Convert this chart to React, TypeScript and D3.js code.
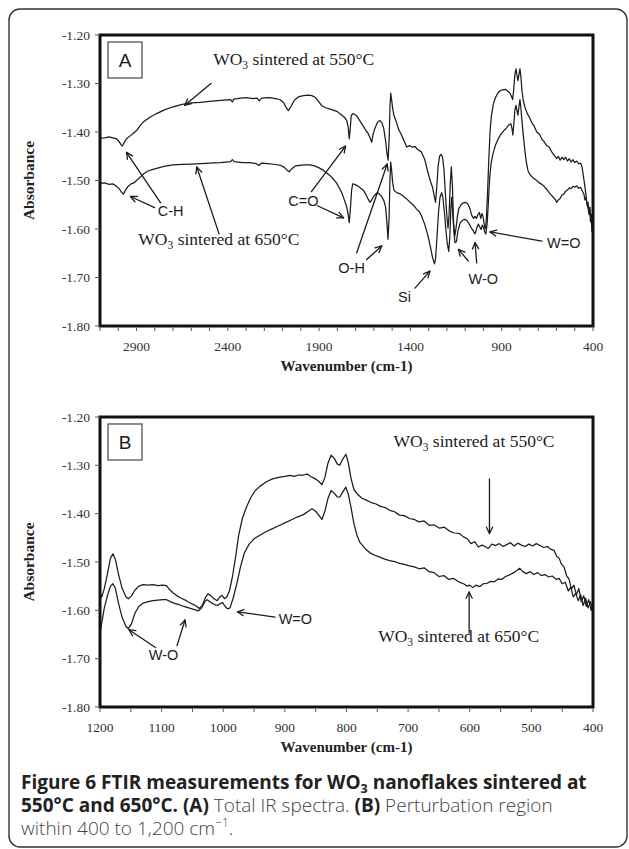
import React from 'react';
import * as d3 from 'd3';

type Pt = [number, number];

// ---------------- DATA ----------------
const yTickValues = [-1.2, -1.3, -1.4, -1.5, -1.6, -1.7, -1.8];
const xTicksA = [2900, 2400, 1900, 1400, 900, 400];
const xTicksB = [1200, 1100, 1000, 900, 800, 700, 600, 500, 400];

const specA550: Pt[] = [[3100,-1.413],[3075,-1.412],[3050,-1.410],[3030,-1.412],[3010,-1.414],[2995,-1.420],[2985,-1.426],[2978,-1.429],[2968,-1.422],[2955,-1.414],[2935,-1.408],[2918,-1.403],[2900,-1.397],[2880,-1.387],[2865,-1.380],[2850,-1.376],[2820,-1.368],[2790,-1.362],[2750,-1.355],[2700,-1.348],[2650,-1.343],[2600,-1.340],[2550,-1.339],[2500,-1.337],[2440,-1.335],[2385,-1.333],[2375,-1.338],[2368,-1.332],[2330,-1.330],[2300,-1.329],[2260,-1.331],[2240,-1.330],[2228,-1.336],[2215,-1.330],[2170,-1.329],[2140,-1.331],[2115,-1.333],[2095,-1.339],[2080,-1.350],[2068,-1.356],[2055,-1.348],[2035,-1.334],[2010,-1.327],[1985,-1.325],[1960,-1.324],[1940,-1.325],[1920,-1.329],[1905,-1.336],[1885,-1.346],[1865,-1.350],[1840,-1.353],[1822,-1.355],[1800,-1.358],[1780,-1.364],[1760,-1.370],[1748,-1.377],[1740,-1.392],[1735,-1.414],[1730,-1.395],[1724,-1.366],[1715,-1.362],[1700,-1.365],[1690,-1.369],[1675,-1.378],[1660,-1.387],[1645,-1.396],[1630,-1.404],[1620,-1.413],[1612,-1.421],[1604,-1.404],[1592,-1.390],[1580,-1.380],[1567,-1.376],[1556,-1.381],[1546,-1.393],[1536,-1.418],[1528,-1.445],[1522,-1.458],[1516,-1.41],[1512,-1.35],[1508,-1.320],[1503,-1.333],[1497,-1.352],[1490,-1.366],[1478,-1.378],[1465,-1.394],[1450,-1.405],[1435,-1.418],[1420,-1.431],[1405,-1.428],[1390,-1.431],[1375,-1.430],[1360,-1.436],[1340,-1.441],[1322,-1.456],[1305,-1.482],[1290,-1.502],[1278,-1.515],[1268,-1.535],[1262,-1.545],[1255,-1.51],[1248,-1.47],[1240,-1.450],[1232,-1.446],[1224,-1.452],[1216,-1.478],[1208,-1.53],[1200,-1.575],[1194,-1.598],[1188,-1.57],[1182,-1.51],[1176,-1.472],[1170,-1.51],[1164,-1.585],[1157,-1.615],[1150,-1.598],[1142,-1.572],[1135,-1.558],[1122,-1.550],[1110,-1.546],[1098,-1.545],[1086,-1.548],[1076,-1.556],[1064,-1.572],[1054,-1.578],[1046,-1.574],[1038,-1.578],[1030,-1.570],[1022,-1.566],[1015,-1.578],[1008,-1.568],[1002,-1.575],[996,-1.590],[991,-1.600],[985,-1.585],[978,-1.53],[971,-1.46],[964,-1.40],[956,-1.365],[946,-1.343],[935,-1.330],[922,-1.320],[909,-1.315],[895,-1.313],[880,-1.312],[866,-1.316],[855,-1.320],[846,-1.327],[840,-1.333],[834,-1.312],[828,-1.282],[822,-1.270],[817,-1.282],[811,-1.294],[805,-1.280],[800,-1.270],[795,-1.285],[789,-1.315],[782,-1.335],[772,-1.350],[760,-1.362],[748,-1.370],[736,-1.380],[722,-1.388],[708,-1.400],[694,-1.404],[680,-1.415],[668,-1.420],[654,-1.428],[640,-1.431],[628,-1.440],[616,-1.446],[605,-1.452],[599,-1.455],[590,-1.450],[580,-1.458],[570,-1.452],[560,-1.457],[550,-1.452],[540,-1.460],[530,-1.455],[520,-1.462],[510,-1.457],[500,-1.463],[489,-1.460],[478,-1.466],[468,-1.464],[460,-1.472],[453,-1.490],[446,-1.508],[440,-1.525],[434,-1.545],[428,-1.555],[422,-1.570],[418,-1.560],[414,-1.585],[410,-1.575],[406,-1.605],[403,-1.595],[400,-1.620]];

const specA650: Pt[] = [[3100,-1.506],[3075,-1.505],[3050,-1.508],[3030,-1.507],[3010,-1.512],[2995,-1.517],[2982,-1.524],[2972,-1.528],[2962,-1.521],[2948,-1.513],[2930,-1.507],[2915,-1.505],[2900,-1.500],[2880,-1.493],[2860,-1.486],[2840,-1.481],[2810,-1.477],[2780,-1.474],[2750,-1.471],[2700,-1.468],[2650,-1.467],[2600,-1.466],[2550,-1.465],[2500,-1.464],[2440,-1.463],[2385,-1.461],[2375,-1.457],[2365,-1.461],[2320,-1.463],[2280,-1.463],[2245,-1.465],[2230,-1.469],[2215,-1.464],[2180,-1.465],[2140,-1.467],[2110,-1.469],[2090,-1.473],[2075,-1.479],[2064,-1.482],[2050,-1.476],[2030,-1.470],[2005,-1.469],[1980,-1.468],[1950,-1.468],[1925,-1.470],[1900,-1.474],[1880,-1.478],[1860,-1.484],[1840,-1.490],[1822,-1.497],[1805,-1.505],[1790,-1.515],[1776,-1.525],[1762,-1.540],[1750,-1.553],[1742,-1.567],[1735,-1.587],[1729,-1.56],[1722,-1.52],[1716,-1.507],[1705,-1.508],[1690,-1.511],[1675,-1.515],[1658,-1.520],[1645,-1.528],[1632,-1.538],[1621,-1.545],[1612,-1.540],[1600,-1.532],[1590,-1.528],[1581,-1.525],[1570,-1.528],[1557,-1.533],[1545,-1.542],[1536,-1.555],[1529,-1.585],[1523,-1.621],[1517,-1.58],[1512,-1.50],[1508,-1.462],[1503,-1.478],[1497,-1.505],[1490,-1.520],[1475,-1.525],[1460,-1.527],[1440,-1.532],[1420,-1.538],[1402,-1.545],[1385,-1.550],[1366,-1.559],[1350,-1.565],[1339,-1.573],[1322,-1.590],[1305,-1.612],[1290,-1.638],[1278,-1.660],[1268,-1.672],[1262,-1.660],[1254,-1.615],[1246,-1.565],[1238,-1.535],[1229,-1.525],[1222,-1.535],[1214,-1.565],[1206,-1.600],[1198,-1.630],[1190,-1.646],[1184,-1.615],[1178,-1.555],[1174,-1.535],[1169,-1.560],[1162,-1.605],[1156,-1.628],[1148,-1.626],[1140,-1.605],[1128,-1.588],[1115,-1.582],[1101,-1.580],[1090,-1.583],[1078,-1.590],[1066,-1.598],[1055,-1.604],[1048,-1.610],[1042,-1.606],[1035,-1.596],[1028,-1.590],[1020,-1.596],[1013,-1.601],[1006,-1.592],[999,-1.598],[992,-1.607],[987,-1.610],[980,-1.590],[973,-1.545],[966,-1.495],[958,-1.465],[948,-1.445],[935,-1.428],[920,-1.415],[905,-1.405],[890,-1.398],[875,-1.392],[860,-1.385],[850,-1.383],[844,-1.392],[839,-1.406],[834,-1.385],[828,-1.355],[822,-1.345],[816,-1.356],[811,-1.365],[805,-1.347],[800,-1.333],[795,-1.350],[789,-1.378],[782,-1.405],[774,-1.435],[766,-1.460],[756,-1.480],[745,-1.488],[733,-1.493],[720,-1.497],[708,-1.500],[695,-1.505],[680,-1.508],[668,-1.512],[654,-1.518],[640,-1.525],[628,-1.530],[615,-1.536],[605,-1.540],[599,-1.545],[590,-1.540],[580,-1.537],[570,-1.530],[560,-1.528],[550,-1.522],[540,-1.520],[530,-1.515],[520,-1.517],[510,-1.512],[500,-1.514],[489,-1.511],[478,-1.516],[468,-1.514],[458,-1.522],[450,-1.528],[444,-1.540],[438,-1.535],[432,-1.552],[427,-1.545],[422,-1.565],[417,-1.555],[412,-1.580],[408,-1.570],[404,-1.595],[400,-1.585]];

const specB550: Pt[] = [[1200,-1.566],[1197,-1.572],[1193,-1.555],[1188,-1.525],[1183,-1.492],[1179,-1.483],[1175,-1.495],[1170,-1.525],[1164,-1.555],[1158,-1.572],[1154,-1.576],[1149,-1.570],[1143,-1.558],[1137,-1.550],[1130,-1.547],[1122,-1.548],[1114,-1.547],[1106,-1.549],[1098,-1.548],[1092,-1.549],[1088,-1.556],[1082,-1.563],[1075,-1.570],[1068,-1.575],[1060,-1.580],[1052,-1.586],[1045,-1.590],[1039,-1.596],[1034,-1.590],[1029,-1.574],[1025,-1.566],[1020,-1.570],[1015,-1.576],[1010,-1.580],[1006,-1.573],[1002,-1.569],[998,-1.576],[994,-1.572],[990,-1.560],[985,-1.530],[980,-1.490],[975,-1.445],[969,-1.410],[962,-1.385],[955,-1.366],[948,-1.352],[940,-1.343],[930,-1.334],[920,-1.328],[910,-1.325],[900,-1.323],[892,-1.321],[885,-1.323],[878,-1.320],[870,-1.320],[864,-1.318],[858,-1.323],[852,-1.327],[846,-1.332],[840,-1.340],[835,-1.325],[830,-1.295],[825,-1.279],[820,-1.285],[815,-1.297],[811,-1.300],[806,-1.287],[801,-1.277],[797,-1.295],[793,-1.325],[788,-1.350],[782,-1.360],[775,-1.368],[768,-1.372],[760,-1.377],[752,-1.380],[745,-1.385],[738,-1.387],[730,-1.393],[722,-1.396],[714,-1.403],[706,-1.404],[698,-1.410],[690,-1.412],[682,-1.417],[674,-1.415],[666,-1.424],[658,-1.423],[649,-1.430],[641,-1.428],[633,-1.436],[625,-1.440],[617,-1.441],[610,-1.448],[604,-1.452],[598,-1.462],[592,-1.458],[586,-1.469],[580,-1.465],[575,-1.468],[570,-1.472],[564,-1.463],[558,-1.466],[552,-1.462],[546,-1.468],[540,-1.464],[534,-1.460],[528,-1.467],[522,-1.461],[516,-1.465],[510,-1.468],[504,-1.463],[498,-1.467],[492,-1.462],[486,-1.466],[480,-1.470],[474,-1.468],[468,-1.474],[463,-1.476],[459,-1.488],[455,-1.492],[451,-1.505],[447,-1.510],[443,-1.528],[439,-1.535],[435,-1.556],[431,-1.548],[427,-1.568],[423,-1.555],[419,-1.582],[415,-1.570],[411,-1.592],[407,-1.578],[403,-1.600],[400,-1.590]];

const specB650: Pt[] = [[1200,-1.646],[1197,-1.625],[1193,-1.595],[1188,-1.570],[1183,-1.550],[1179,-1.545],[1175,-1.555],[1170,-1.585],[1164,-1.615],[1158,-1.633],[1154,-1.638],[1149,-1.628],[1143,-1.605],[1137,-1.592],[1130,-1.585],[1122,-1.582],[1114,-1.580],[1106,-1.579],[1098,-1.578],[1092,-1.578],[1086,-1.582],[1080,-1.585],[1072,-1.588],[1064,-1.592],[1056,-1.595],[1048,-1.598],[1040,-1.601],[1035,-1.595],[1030,-1.582],[1026,-1.578],[1020,-1.584],[1014,-1.588],[1009,-1.590],[1005,-1.586],[1001,-1.584],[997,-1.592],[993,-1.597],[989,-1.595],[984,-1.575],[978,-1.545],[972,-1.510],[966,-1.482],[958,-1.463],[950,-1.452],[940,-1.444],[930,-1.437],[920,-1.431],[910,-1.425],[900,-1.419],[890,-1.413],[880,-1.407],[870,-1.402],[862,-1.395],[856,-1.390],[850,-1.395],[845,-1.403],[840,-1.412],[835,-1.395],[830,-1.368],[825,-1.352],[820,-1.358],[815,-1.365],[811,-1.366],[806,-1.355],[801,-1.345],[797,-1.360],[793,-1.385],[788,-1.420],[783,-1.445],[778,-1.460],[770,-1.472],[762,-1.481],[754,-1.486],[746,-1.490],[738,-1.494],[730,-1.497],[722,-1.499],[714,-1.503],[706,-1.505],[698,-1.508],[690,-1.510],[682,-1.514],[674,-1.512],[666,-1.520],[658,-1.522],[650,-1.530],[642,-1.528],[634,-1.536],[626,-1.534],[618,-1.541],[610,-1.545],[604,-1.550],[600,-1.548],[595,-1.553],[590,-1.548],[584,-1.551],[578,-1.545],[572,-1.544],[566,-1.540],[560,-1.541],[554,-1.535],[548,-1.536],[542,-1.530],[536,-1.527],[530,-1.523],[524,-1.518],[519,-1.513],[514,-1.520],[508,-1.524],[502,-1.520],[496,-1.526],[490,-1.522],[484,-1.528],[478,-1.526],[472,-1.531],[466,-1.529],[460,-1.536],[455,-1.534],[450,-1.545],[445,-1.542],[440,-1.560],[436,-1.552],[432,-1.572],[428,-1.565],[424,-1.580],[420,-1.568],[416,-1.590],[412,-1.575],[408,-1.595],[404,-1.582],[400,-1.602]];

// Annotation labels (text, anchor position in data units)
type Lbl = { text: string; w: number; v: number };
type Arr = { from: Pt; to: Pt };

const labelsA: Lbl[] = [
  { text: 'C-H', w: 2713, v: -1.562 },
  { text: 'C=O', w: 1986, v: -1.542 },
  { text: 'O-H', w: 1722, v: -1.680 },
  { text: 'Si', w: 1432, v: -1.740 },
  { text: 'W-O', w: 1001, v: -1.702 },
  { text: 'W=O', w: 560, v: -1.628 },
];
const arrowsA: Arr[] = [
  { from: [2768, -1.546], to: [2955, -1.442] },
  { from: [2801, -1.556], to: [2933, -1.533] },
  { from: [1942, -1.523], to: [1755, -1.429] },
  { from: [1909, -1.552], to: [1766, -1.577] },
  { from: [1694, -1.649], to: [1527, -1.466] },
  { from: [1640, -1.663], to: [1557, -1.635] },
  { from: [1375, -1.722], to: [1293, -1.687] },
  { from: [1083, -1.666], to: [1137, -1.642] },
  { from: [1037, -1.670], to: [1046, -1.628] },
  { from: [680, -1.625], to: [964, -1.606] },
  { from: [2492, -1.300], to: [2636, -1.345] },
  { from: [2448, -1.610], to: [2570, -1.472] },
];
const labelsB: Lbl[] = [
  { text: 'W-O', w: 1097, v: -1.693 },
  { text: 'W=O', w: 883, v: -1.617 },
];
const arrowsB: Arr[] = [
  { from: [1110, -1.677], to: [1153, -1.640] },
  { from: [1075, -1.673], to: [1062, -1.620] },
  { from: [916, -1.614], to: [977, -1.603] },
  { from: [568, -1.328], to: [568, -1.441] },
  { from: [601, -1.647], to: [601, -1.562] },
];

// ---------------- LAYOUT ----------------
const W = 629;
const H = 849;
const plotL = 100;
const plotR = 593;
const panelA = { top: 35, bottom: 326 };
const panelB = { top: 417, bottom: 707 };
const SERIF = "'Liberation Serif', 'Times New Roman', serif";
const SANS = "'Liberation Sans', Arial, sans-serif";
const CAP = "'Open Sans', 'Noto Sans', sans-serif";
const INK = '#1c1c1c';

const Arrow = ({ x1, y1, x2, y2 }: { x1: number; y1: number; x2: number; y2: number }) => {
  const ang = Math.atan2(y2 - y1, x2 - x1);
  const L = 7;
  const spread = 0.45;
  const a1x = x2 - L * Math.cos(ang - spread);
  const a1y = y2 - L * Math.sin(ang - spread);
  const a2x = x2 - L * Math.cos(ang + spread);
  const a2y = y2 - L * Math.sin(ang + spread);
  return (
    <g stroke={INK} strokeWidth={1.3} fill="none" strokeLinecap="round" strokeLinejoin="round">
      <line x1={x1} y1={y1} x2={x2} y2={y2} />
      <polyline points={`${a1x},${a1y} ${x2},${y2} ${a2x},${a2y}`} />
    </g>
  );
};

const WOText = ({ x, y, temp, anchor = 'start' }: { x: number; y: number; temp: string; anchor?: string }) => (
  <text x={x} y={y} fontFamily={SERIF} fontSize={17.5} fill={INK} textAnchor={anchor as any}>
    WO<tspan fontSize={11.5} dy={4}>3</tspan>
    <tspan dy={-4}> sintered at {temp}°C</tspan>
  </text>
);

const Panel = ({
  top, bottom, domain, xTicks, minorStep, series, labels, arrows, letter, children,
}: {
  top: number; bottom: number; domain: [number, number]; xTicks: number[]; minorStep: number;
  series: Pt[][]; labels: Lbl[]; arrows: Arr[]; letter: string; children?: (x: any, y: any) => React.ReactNode;
}) => {
  const x = d3.scaleLinear().domain(domain).range([plotL, plotR]);
  const y = d3.scaleLinear().domain([-1.2, -1.8]).range([top, bottom]);
  const line = d3.line<Pt>().x((d) => x(d[0])).y((d) => y(d[1]));
  const minors = d3.range(domain[1], domain[0] + 0.001, minorStep);
  return (
    <g>
      {series.map((s, i) => (
        <path key={i} d={line(s) || ''} fill="none" stroke={INK} strokeWidth={1.25} strokeLinejoin="round" />
      ))}
      <rect x={plotL} y={top} width={plotR - plotL} height={bottom - top} fill="none" stroke="#111" strokeWidth={3} />
      {minors.map((t) => (
        <line key={'m' + t} x1={x(t)} x2={x(t)} y1={bottom + 1.5} y2={bottom + 5} stroke="#555" strokeWidth={1} />
      ))}
      {yTickValues.map((t) => (
        <g key={'y' + t}>
          <line x1={plotL - 5} x2={plotL} y1={y(t)} y2={y(t)} stroke="#555" strokeWidth={1} />
          <text x={plotL - 10} y={y(t)} dy="0.35em" textAnchor="end" fontFamily={SERIF} fontSize={13.5} fill="#333">
            {t.toFixed(2)}
          </text>
        </g>
      ))}
      {xTicks.map((t) => (
        <text key={'x' + t} x={x(t)} y={bottom + 25} textAnchor="middle" fontFamily={SERIF} fontSize={13.5} fill="#333">
          {t}
        </text>
      ))}
      <text x={(plotL + plotR) / 2} y={bottom + 45} textAnchor="middle" fontFamily={SERIF} fontWeight="bold" fontSize={15} fill="#222">
        Wavenumber (cm-1)
      </text>
      <text
        transform={`translate(${34},${(top + bottom) / 2}) rotate(-90)`}
        textAnchor="middle" fontFamily={SERIF} fontWeight="bold" fontSize={15.5} fill="#222"
      >
        Absorbance
      </text>
      <rect x={plotL + 8} y={top + 7} width={34} height={36} fill="#fff" stroke="#444" strokeWidth={1.2} />
      <text x={plotL + 25} y={top + 32} textAnchor="middle" fontFamily={SANS} fontSize={19} fill={INK}>
        {letter}
      </text>
      {labels.map((l, i) => (
        <text key={'l' + i} x={x(l.w)} y={y(l.v)} dy="0.35em" textAnchor="middle" fontFamily={SANS} fontSize={14.5} fill={INK}>
          {l.text}
        </text>
      ))}
      {arrows.map((a, i) => (
        <Arrow key={'a' + i} x1={x(a.from[0])} y1={y(a.from[1])} x2={x(a.to[0])} y2={y(a.to[1])} />
      ))}
      {children && children(x, y)}
    </g>
  );
};

export default function App() {
  return (
    <svg width={W} height={H} viewBox={`0 0 ${W} ${H}`} style={{ display: 'block', position: 'absolute', left: 0, top: 0, background: '#fff' }}>
      <rect x={0} y={0} width={W} height={H} fill="#fff" />
      <rect x={9} y={9} width={618} height={838} rx={11} ry={11} fill="none" stroke="#333" strokeWidth={1.4} />
      <Panel
        top={panelA.top} bottom={panelA.bottom} domain={[3100, 400]} xTicks={xTicksA} minorStep={100}
        series={[specA550, specA650]} labels={labelsA} arrows={arrowsA} letter="A"
      >
        {(x: any, y: any) => (
          <g>
            <WOText x={x(2480)} y={y(-1.262)} temp="550" />
            <WOText x={x(2890)} y={y(-1.632)} temp="650" />
          </g>
        )}
      </Panel>
      <Panel
        top={panelB.top} bottom={panelB.bottom} domain={[1200, 400]} xTicks={xTicksB} minorStep={50}
        series={[specB550, specB650]} labels={labelsB} arrows={arrowsB} letter="B"
      >
        {(x: any, y: any) => (
          <g>
            <WOText x={x(593)} y={y(-1.262)} temp="550" anchor="middle" />
            <WOText x={x(618)} y={y(-1.665)} temp="650" anchor="middle" />
          </g>
        )}
      </Panel>
      <text x={21} y={789} fontFamily={CAP} fontSize={19} fill="#222" fontWeight="bold">
        Figure 6 FTIR measurements for WO<tspan fontSize={12.5} dy={4}>3</tspan>
        <tspan dy={-4}> nanoflakes sintered at</tspan>
      </text>
      <text x={21} y={812} fontFamily={CAP} fontSize={19} fill="#222">
        <tspan fontWeight="bold">550°C and 650°C. (A)</tspan>
        <tspan fill="#444" fontWeight={300}> Total IR spectra. </tspan>
        <tspan fontWeight="bold">(B)</tspan>
        <tspan fill="#444" fontWeight={300}> Perturbation region</tspan>
      </text>
      <text x={21} y={835} fontFamily={CAP} fontSize={19} fill="#444" fontWeight={300}>
        within 400 to 1,200 cm<tspan fontSize={12} dy={-8}>−1</tspan>
        <tspan dy={8}>.</tspan>
      </text>
    </svg>
  );
}
